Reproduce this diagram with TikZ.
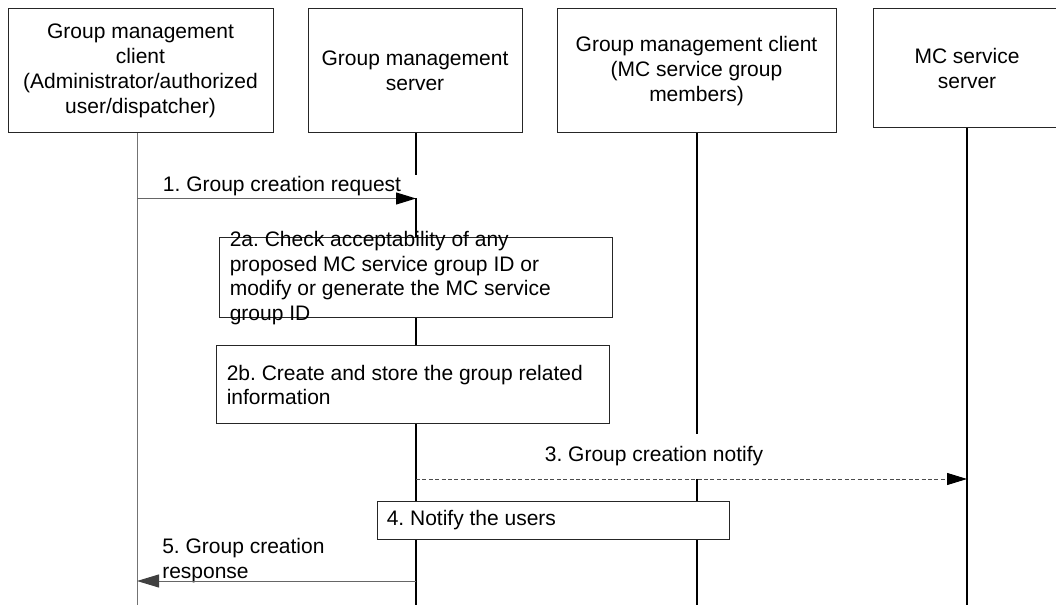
\documentclass[tikz,border=0pt]{standalone}
\usepackage{fontspec}
\setmainfont{Liberation Sans}
\usetikzlibrary{positioning,arrows.meta}

\begin{document}
\begin{tikzpicture}[x=0.75pt, y=-0.75pt,
    every node/.style={font=\fontsize{15.75pt}{18.6pt}\selectfont\frenchspacing},
    head/.style={draw=black!85, line width=0.75pt, fill=white, align=center, inner sep=0pt,
                minimum height=93pt},
    stepbox/.style={draw=black!85, line width=0.75pt, fill=white, inner sep=0pt},
    steptext/.style={align=left, inner sep=0pt},
    life/.style={line width=1.1pt},
    lbl/.style={fill=white, inner sep=0pt, align=left},
    msg/.style={line width=0.75pt, black!60, -{Triangle[length=15pt, width=9pt, color=black]}},
]
\useasboundingbox (0,0) rectangle (1056,605);
\node[head, minimum width=198.75pt] (gmc) at (140.5,71)
    {Group management\\client\\(Administrator/authorized\\user/dispatcher)};
\node[head, minimum width=160.5pt] (gms) at (415,71) {Group management\\server};
\node[head, minimum width=209.25pt] (mem) at (696.5,71)
    {Group management client\\(MC service group\\members)};
\node[head, minimum width=141pt, minimum height=89.25pt] (mcs) at (967,68.5) {MC service\\server};
\coordinate (gmc-end) at (137,607);
\coordinate (gms-end) at (416,607);
\coordinate (mem-end) at (697,607);
\coordinate (mcs-end) at (967,607);
\draw[black!55, line width=0.75pt] (gmc.south -| gmc-end) -- (gmc-end);
\foreach \x in {gms,mem,mcs} {
    \draw[life] (\x.south -| \x-end) -- (\x-end);
}
\node[stepbox, minimum width=294.75pt, minimum height=60pt] (chk) at (415.5,278) {};
\node[steptext, right=8.25pt of chk.west] (chk-txt)
    {2a. Check acceptability of any\\proposed MC service group ID or\\modify or generate the MC service\\group ID};
\node[stepbox, minimum width=294.75pt, minimum height=58.5pt] (store) at (412.5,385) {};
\node[steptext, right=8.25pt of store.west] (store-txt)
    {2b. Create and store the group related\\information};
\node[stepbox, minimum width=264pt, minimum height=28.5pt] (notify) at (553,520) {};
\node[steptext, right=7.5pt of notify.west] (notify-txt) {4. Notify the users};
\node[lbl, inner xsep=12pt, inner ysep=1.5pt] (req-lbl) at (282,186.5) {1. Group creation request};
\node[lbl, inner xsep=3pt, inner ysep=9.9pt] (note-lbl) at (654,456.5) {3. Group creation notify};
\node[lbl, anchor=south west] (resp-lbl) at (162,583.4) {5. Group creation\\response};
\coordinate (req-from) at (137,198.5);
\coordinate (req-to) at (416,198.5);
\coordinate (note-from) at (416,479);
\coordinate (note-to) at (967,479);
\coordinate (resp-from) at (416,581);
\coordinate (resp-to) at (137,581);
\draw[msg] (req-from) -- (req-to);
\draw[msg, black!70, dash pattern=on 3pt off 1.8pt] (note-from) -- (note-to);
\draw[msg, -{Triangle[length=16.5pt, width=9.75pt, color=black!75]}] (resp-from) -- (resp-to);
\end{tikzpicture}
\end{document}
